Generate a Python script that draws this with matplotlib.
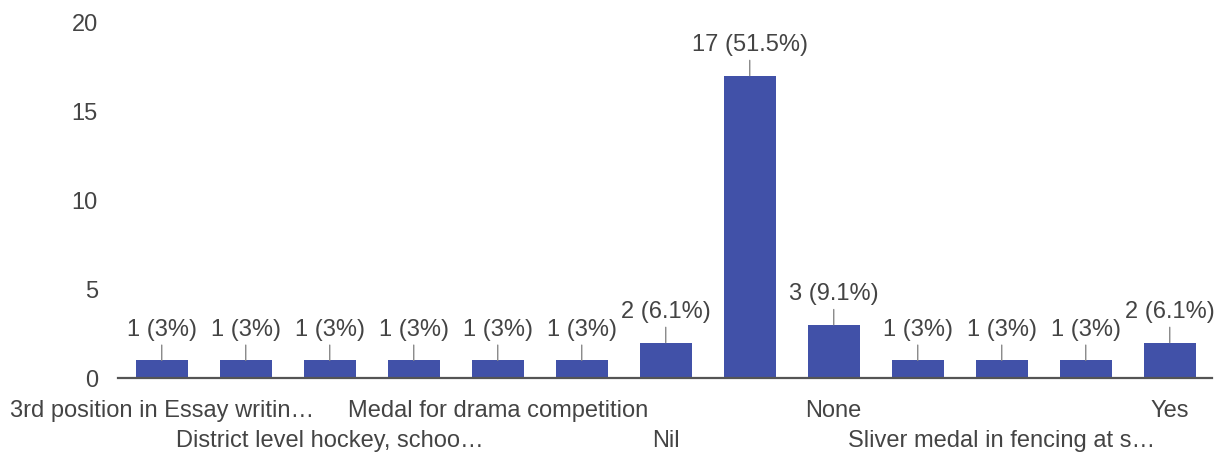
import matplotlib.pyplot as plt
import numpy as np

# answers (only every other category name is readable in the chart)
categories = ["3rd position in Essay writin…", "", "District level hockey, schoo…", "",
              "Medal for drama competition", "", "Nil", "", "None", "",
              "Sliver medal in fencing at s…", "", "Yes"]
counts = [1, 1, 1, 1, 1, 1, 2, 17, 3, 1, 1, 1, 2]
percents = ["3%", "3%", "3%", "3%", "3%", "3%", "6.1%", "51.5%", "9.1%", "3%", "3%", "3%", "6.1%"]
y_ticks = [0, 5, 10, 15, 20]

plt.rcParams['font.family'] = ['Liberation Sans', 'DejaVu Sans']
text_col = '#444444'

fig = plt.figure(figsize=(12.22, 4.54), dpi=100)
ax = fig.add_axes([0.0966, 0.167, 0.895, 0.784])

x = np.arange(len(counts))
ax.bar(x, counts, width=0.62, color='#4151a8', zorder=2)

for i in range(len(counts)):
    ax.annotate('%d (%s)' % (counts[i], percents[i]), xy=(x[i], counts[i]),
                xytext=(0, 14), textcoords='offset points', ha='center', va='bottom',
                fontsize=17, color=text_col, annotation_clip=False,
                arrowprops=dict(arrowstyle='-', color='#888888', lw=1,
                                shrinkA=1, shrinkB=0))

# staggered category labels: only even positions are labelled, two rows
ax.set_xticks([])
shown = [i for i in range(len(categories)) if categories[i] != ""]
for k, i in enumerate(shown):
    row_y = -0.093 if k % 2 == 0 else -0.177
    ax.text(x[i], row_y, categories[i], transform=ax.get_xaxis_transform(),
            ha='center', va='center', fontsize=17, color=text_col)

ax.set_yticks(y_ticks)
ax.set_yticklabels([str(v) for v in y_ticks], fontsize=17, color=text_col)
ax.tick_params(axis='both', length=0)
ax.tick_params(axis='y', pad=14.5)

ax.set_xlim(-0.52, 12.5)
ax.set_ylim(0, 20)
for s in ['top', 'right', 'left']:
    ax.spines[s].set_visible(False)
ax.spines['bottom'].set_color('#555555')
ax.spines['bottom'].set_linewidth(1.6)
ax.spines['bottom'].set_zorder(3)

fig.savefig('out.png', dpi=100)
